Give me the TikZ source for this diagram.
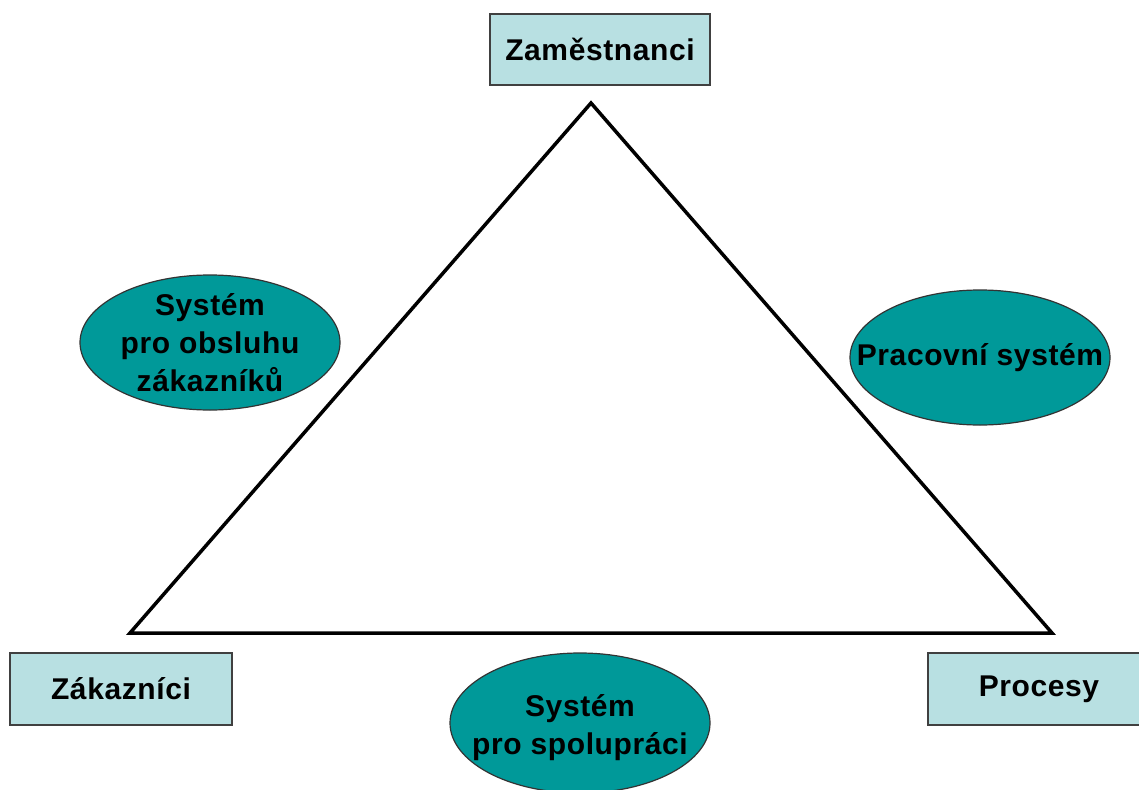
\documentclass[tikz,border=0pt]{standalone}
\usepackage{fontspec}
\setmainfont{Liberation Sans}[LetterSpace=2]
\usetikzlibrary{shapes.geometric}
\definecolor{boxfill}{RGB}{184,224,226}
\definecolor{teal}{RGB}{0,153,153}
\tikzset{
  lbl/.style={font=\bfseries\fontsize{30}{38}\selectfont, text=black},
  cornerbox/.style={lbl, draw=black!75, line width=1.5pt, fill=boxfill, inner sep=0pt},
  sysell/.style={ellipse, draw=black!80, line width=1.2pt, fill=teal, inner sep=0pt,
     minimum width=260pt, minimum height=135pt},
  systext/.style={lbl, align=center, inner sep=0pt},
}
\begin{document}
\begin{tikzpicture}[x=1pt,y=-1pt]
\useasboundingbox (0,0) rectangle (1139,789);
\clip (0,0) rectangle (1139,789);
\fill[white] (0,0) rectangle (1139,789);
% triangle
\coordinate (apex) at (591,103);
\coordinate (bl) at (130,633);
\coordinate (br) at (1052,633);
\draw[line width=3.5pt, line join=miter] (apex) -- (br) -- (bl) -- cycle;
% corner boxes
\node[cornerbox, minimum width=220pt, minimum height=71pt] (zam) at (600,49.5) {Zaměstnanci};
\node[cornerbox, minimum width=222pt, minimum height=72pt] (zak) at (121,689) {Zákazníci};
\node[cornerbox, minimum width=222pt, minimum height=72pt] (proc) at (1039,689) {Procesy};
% ellipses
\node[sysell] (obs) at (210,342.5) {};
\node[systext] (obst) at (obs.center) {Systém\\pro obsluhu\\zákazníků};
\node[sysell] (prac) at (980,357.5) {};
\node[systext] (pract) at (prac.center) {Pracovní systém};
\node[sysell, minimum height=140pt] (spol) at (580,723) {};
\node[systext] (spolt) at ([yshift=-5pt]spol.center) {Systém\\pro spolupráci};
\end{tikzpicture}
\end{document}
